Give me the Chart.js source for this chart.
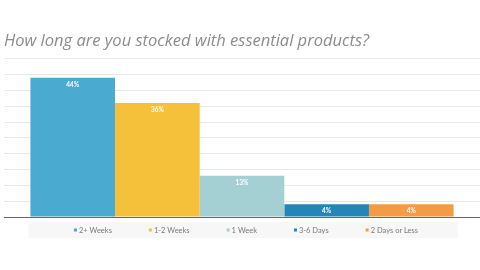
<!DOCTYPE html>
<html>
<head>
<meta charset="utf-8">
<script src="https://cdn.jsdelivr.net/npm/chart.js@4"></script>
<style>
  html, body { margin: 0; padding: 0; background: #fff; }
  #wrap { width: 480px; height: 270px; }
</style>
</head>
<body>
<div id="wrap"><canvas id="grafico"></canvas></div>
<script>
/* Dados */
const titulo = 'How long are you stocked with essential products?';
const categorias = ['2+ Weeks', '1-2 Weeks', '1 Week', '3-6 Days', '2 Days or Less'];
const percentuais = [44, 36, 13, 4, 4];
const cores = ['#4aaad0', '#f5c13b', '#a5d0d3', '#2485b7', '#f59b45'];

// legenda desenhada à mão: faixa cinza clara com os itens espaçados
const legendaBaixo = {
  id: 'legendaBaixo',
  afterDraw(chart) {
    const ctx = chart.ctx;
    const metas = chart.data.datasets.map((d, i) => chart.getDatasetMeta(i).data[0]);
    const x0 = metas[0].x - metas[0].width / 2 - 2;
    const ult = metas[metas.length - 1];
    const x1 = ult.x + ult.width / 2 + 4;
    const y = chart.chartArea.bottom + 13;        // centro da faixa
    ctx.save();
    ctx.fillStyle = '#f7f7f7';
    ctx.fillRect(x0, y - 8, x1 - x0, 16);

    ctx.font = '7.5px Lato';
    ctx.textBaseline = 'middle';
    const caixa = 3, folga = 2, espaco = 37;
    const larguras = chart.data.datasets.map(d => caixa + folga + ctx.measureText(d.label).width);
    const total = larguras.reduce((a, b) => a + b, 0) + espaco * (larguras.length - 1);
    let x = (x0 + x1) / 2 - total / 2 + 3;
    chart.data.datasets.forEach((d, i) => {
      ctx.fillStyle = d.backgroundColor;
      ctx.fillRect(x, y - caixa / 2, caixa, caixa);
      ctx.fillStyle = '#7a7a7a';
      ctx.fillText(d.label, x + caixa + folga, y + 0.5);
      x += larguras[i] + espaco;
    });
    ctx.restore();
  }
};

// rótulos de porcentagem dentro do topo de cada barra
const rotulos = {
  id: 'rotulos',
  afterDatasetsDraw(chart) {
    const ctx = chart.ctx;
    ctx.save();
    ctx.font = 'bold 6.5px Lato';
    ctx.fillStyle = '#ffffff';
    ctx.textAlign = 'center';
    ctx.textBaseline = 'middle';
    chart.data.datasets.forEach((d, i) => {
      const b = chart.getDatasetMeta(i).data[0];
      ctx.fillText(d.data[0] + '%', b.x, b.y + 7);
    });
    ctx.restore();
  }
};

new Chart(document.getElementById('grafico'), {
  type: 'bar',
  data: {
    labels: [''],
    datasets: categorias.map((c, i) => ({
      label: c, data: [percentuais[i]], backgroundColor: cores[i],
      categoryPercentage: 0.889, barPercentage: 1
    }))
  },
  options: {
    responsive: true, maintainAspectRatio: false, animation: false,
    layout: { padding: { left: 4, right: 0, top: 0, bottom: 45 } },
    plugins: {
      title: {
        display: true, text: titulo, align: 'start', color: '#8c8c8c',
        font: { family: 'Open Sans', style: 'italic', size: 16.5, weight: 'normal' },
        padding: { top: 31, bottom: 8 }
      },
      legend: { display: false },
      tooltip: { enabled: false }
    },
    scales: {
      x: {
        grid: { display: false },
        ticks: { display: false },
        border: { display: true, color: '#666', width: 1 }
      },
      y: {
        min: 0, max: 50,
        ticks: { display: false, stepSize: 5 },
        grid: { color: '#e8e8e8', drawTicks: false },
        border: { display: false }
      }
    }
  },
  plugins: [legendaBaixo, rotulos]
});
</script>
</body>
</html>
